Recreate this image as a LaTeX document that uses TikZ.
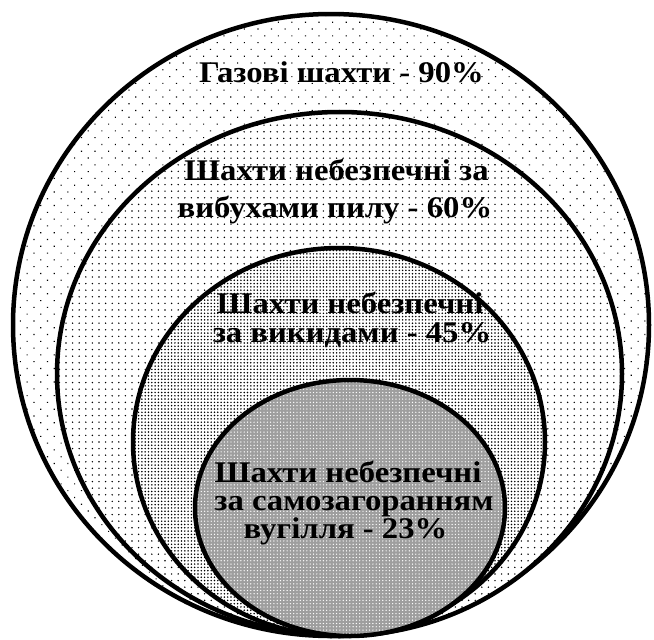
\documentclass[tikz,border=0pt]{standalone}
\usepackage{fontspec}
\setmainfont{Liberation Serif}
\newfontfamily\lblfont{Liberation Serif Bold}[FakeStretch=1.09]
\usetikzlibrary{patterns.meta}
\begin{document}
\begin{tikzpicture}[x=1pt,y=-1pt,
  ring/.style={draw=black,line width=4.5pt},
  lbl/.style={font=\lblfont\fontsize{30}{30}\selectfont,anchor=base,inner sep=0pt}]
\useasboundingbox (0,0) rectangle (654,640);
\fill[white] (0,0) rectangle (654,640);
% outer
\path[fill=white] (331,325) ellipse [x radius=318, y radius=311];
\path[pattern={Dots[distance=9.6pt,radius=0.8pt,angle=45]}] (331,325) ellipse [x radius=318, y radius=311];
\draw[ring] (331,325) ellipse [x radius=318, y radius=311];
% second
\path[fill=white] (339.5,374) ellipse [x radius=282.5, y radius=262];
\path[pattern={Dots[distance=6.6pt,radius=0.8pt]}] (339.5,374) ellipse [x radius=282.5, y radius=262];
\draw[ring] (339.5,374) ellipse [x radius=282.5, y radius=262];
% third
\path[fill=white] (339,442) ellipse [x radius=206, y radius=194];
\path[pattern={Dots[distance=3.3pt,radius=0.85pt]}] (339,442) ellipse [x radius=206, y radius=194];
\draw[ring] (339,442) ellipse [x radius=206, y radius=194];
% inner
\path[fill=black!38] (350,508) ellipse [x radius=155, y radius=128];
\path[pattern={Dots[distance=3.3pt,radius=0.7pt]},pattern color=white] (350,508) ellipse [x radius=155, y radius=128];
\draw[ring] (350,508) ellipse [x radius=155, y radius=128];
% labels
\node[lbl] (t1) at (341.5,82) {Газові шахти - 90\%};
\node[lbl] (t2a) at (336.5,180) {Шахти небезпечні за};
\node[lbl] (t2b) at (335,217) {вибухами пилу - 60\%};
\node[lbl] (t3a) at (350,313) {Шахти небезпечні};
\node[lbl] (t3b) at (352,342) {за викидами - 45\%};
\node[lbl] (t4a) at (348,482) {Шахти небезпечні};
\node[lbl] (t4b) at (354,510) {за самозагоранням};
\node[lbl] (t4c) at (345.5,538) {вугілля - 23\%};
\end{tikzpicture}
\end{document}
